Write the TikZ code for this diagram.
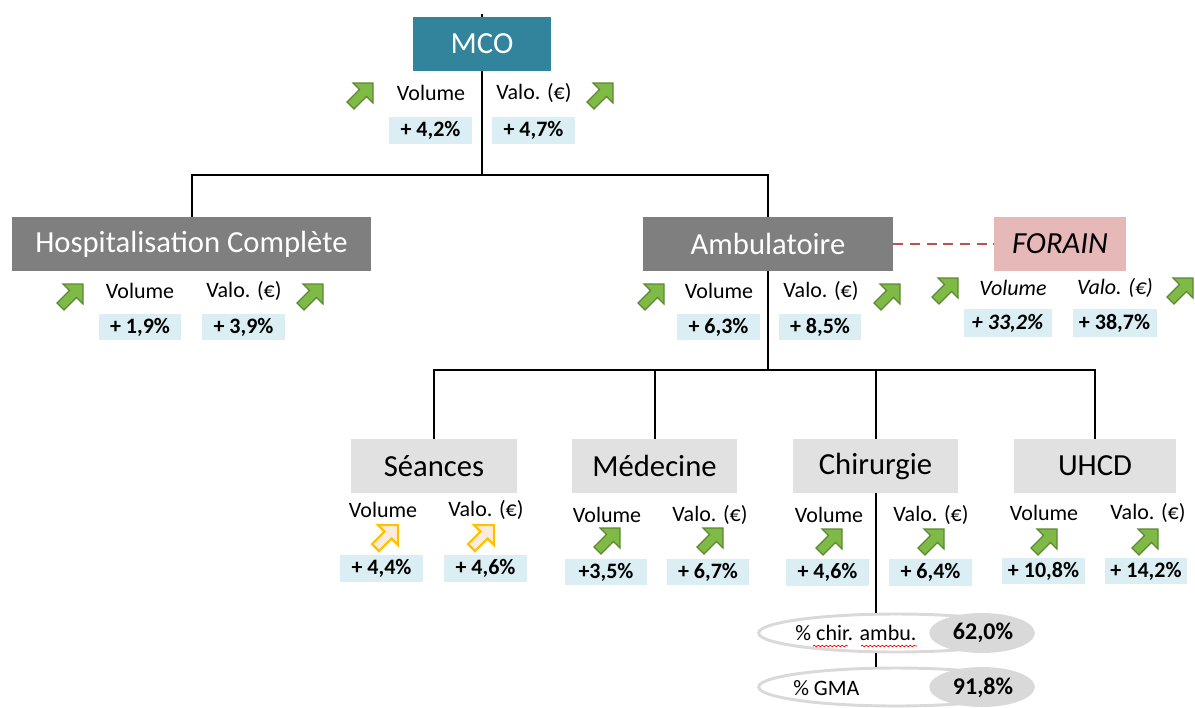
\documentclass[tikz,border=0pt]{standalone}
\usepackage{fontspec}
\setmainfont{Carlito}
\usetikzlibrary{shapes.geometric,decorations.pathmorphing}

\definecolor{bleumco}{RGB}{49,132,155}
\definecolor{grisfonce}{RGB}{127,127,127}
\definecolor{grisclair}{RGB}{225,225,225}
\definecolor{rose}{RGB}{230,184,183}
\definecolor{bleupct}{RGB}{218,238,243}
\definecolor{rougetrait}{RGB}{192,80,77}
\definecolor{vert}{RGB}{128,186,70}
\definecolor{vertfonce}{RGB}{92,136,50}
\definecolor{ambre}{RGB}{255,192,0}
\definecolor{peche}{RGB}{253,236,222}
\definecolor{grisellipse}{RGB}{217,217,217}

\tikzset{
	titre/.style={inner sep=0pt, minimum height=40.5pt, font=\fontsize{23}{26}\selectfont},
	sombre/.style={titre, fill=grisfonce, text=white},
	clair/.style={titre, fill=grisclair, text=black, minimum width=124pt},
	lib/.style={inner sep=0pt, font=\fontsize{16.5}{19}\selectfont},
	pct/.style={inner sep=0pt, fill=bleupct, minimum width=62pt, minimum height=20pt, font=\bfseries\fontsize{16.5}{19}\selectfont},
	trait/.style={line width=1.5pt},
	pics/flecheverte/.style={code={
		\filldraw [fill=vert, draw=vertfonce, line width=0.9pt]
			( -7,-13 ) -- ( 13,-13 ) -- ( 13,7 ) -- ( 6.5,0.5 ) -- ( -6,13 ) -- ( -13,6 ) -- ( -0.5,-6.5 ) -- cycle;
	}},
	pics/flecheorange/.style={code={
		\filldraw [fill=peche, draw=ambre, line width=1.6pt]
			( -7,-13 ) -- ( 13,-13 ) -- ( 13,7 ) -- ( 6.5,0.5 ) -- ( -6,13 ) -- ( -13,6 ) -- ( -0.5,-6.5 ) -- cycle;
	}}
}

\begin{document}
\begin{tikzpicture}[x=0.75pt, y=-0.75pt]
		\useasboundingbox ( 0,0 ) rectangle ( 1195,707 );

		% niveaux
		\node [titre, fill=bleumco, text=white, minimum width=103pt] (mco) at ( 482,44 ) {MCO};
		\node [sombre, minimum width=269pt] (hc) at ( 191.5,244 ) {Hospitalisation Complète};
		\node [sombre, minimum width=187.5pt] (amb) at ( 768,244 ) {Ambulatoire};
		\node [titre, fill=rose, minimum width=99pt, font=\itshape\fontsize{23}{26}\selectfont] (forain) at ( 1060,244 ) {FORAIN};
		\node [clair] (seances) at ( 434,466 ) {Séances};
		\node [clair] (medecine) at ( 654.5,466 ) {Médecine};
		\node [clair] (chirurgie) at ( 875.5,466 ) {Chirurgie};
		\node [clair, minimum width=121.5pt] (uhcd) at ( 1095,466 ) {UHCD};

		% liaisons
		\coordinate (barre1) at ( 0,175 );
		\coordinate (barre2) at ( 0,370 );
		\draw [trait] (mco.north) -- ++( 0,-3 );
		\draw [trait] (mco.south) -- (mco.south |- barre1) -| (hc.north);
		\draw [trait] (mco.south |- barre1) -| (amb.north);
		\draw [trait] (amb.south) -- (amb.south |- barre2);
		\foreach \n in {seances,medecine,chirurgie,uhcd}
			\draw [trait] (amb.south |- barre2) -| (\n.north);
		\draw [rougetrait, line width=1.5pt, dash pattern=on 7.5pt off 5pt] (amb.east) -- (forain.west);

		% MCO
		\pic at ( 360,96 ) {flecheverte};
		\pic at ( 600,96 ) {flecheverte};
		\node [lib] (mcovol) at ( 431,93 ) {Volume};
		\node [lib] (mcoval) at ( 534,93 ) {Valo. (€)};
		\node [pct] (mcopv) at ( 430.5,130.5 ) {+ 4,2\%};
		\node [pct] (mcope) at ( 533.5,130.5 ) {+ 4,7\%};

		% hospitalisation complete
		\pic at ( 70,297 ) {flecheverte};
		\pic at ( 310,297 ) {flecheverte};
		\node [lib] (hcvol) at ( 140,291 ) {Volume};
		\node [lib] (hcval) at ( 244,291 ) {Valo. (€)};
		\node [pct] (hcpv) at ( 140,327 ) {+ 1,9\%};
		\node [pct] (hcpe) at ( 243.5,327 ) {+ 3,9\%};

		% ambulatoire
		\pic at ( 651,297 ) {flecheverte};
		\pic at ( 887,297 ) {flecheverte};
		\node [lib] (ambvol) at ( 719,291 ) {Volume};
		\node [lib] (ambval) at ( 821,291 ) {Valo. (€)};
		\node [pct] (ambpv) at ( 718.5,327 ) {+ 6,3\%};
		\node [pct] (ambpe) at ( 820,327 ) {+ 8,5\%};

		% forain
		\pic at ( 945,291 ) {flecheverte};
		\pic at ( 1180,291 ) {flecheverte};
		\node [lib, font=\itshape\fontsize{16.5}{19}\selectfont] (forvol) at ( 1013,288 ) {Volume};
		\node [lib, font=\itshape\fontsize{16.5}{19}\selectfont] (forval) at ( 1115,288 ) {Valo. (€)};
		\node [pct, minimum width=66pt, minimum height=21pt, font=\bfseries\itshape\fontsize{16.5}{19}\selectfont] (forpv) at ( 1007.5,323 ) {+ 33,2\%};
		\node [pct, minimum width=63pt, minimum height=21pt] (forpe) at ( 1114.5,323 ) {+ 38,7\%};

		% seances
		\node [lib] (seavol) at ( 383,510 ) {Volume};
		\node [lib] (seaval) at ( 486,510 ) {Valo. (€)};
		\pic at ( 385,538 ) {flecheorange};
		\pic at ( 481,538 ) {flecheorange};
		\node [pct] (seapv) at ( 381.5,568.5 ) {+ 4,4\%};
		\node [pct] (seape) at ( 485.5,568.5 ) {+ 4,6\%};

		% medecine
		\node [lib] (medvol) at ( 607,515 ) {Volume};
		\node [lib] (medval) at ( 710,515 ) {Valo. (€)};
		\pic at ( 607,541 ) {flecheverte};
		\pic at ( 710,541 ) {flecheverte};
		\node [pct] (medpv) at ( 606,572 ) {+3,5\%};
		\node [pct] (medpe) at ( 708,572 ) {+ 6,7\%};

		% chirurgie
		\node [lib] (chivol) at ( 829,515 ) {Volume};
		\node [lib] (chival) at ( 931,515 ) {Valo. (€)};
		\pic at ( 829,542 ) {flecheverte};
		\pic at ( 931,542 ) {flecheverte};
		\node [pct] (chipv) at ( 827.5,572.5 ) {+ 4,6\%};
		\node [pct] (chipe) at ( 930.5,572.5 ) {+ 6,4\%};

		% UHCD
		\node [lib] (uhcvol) at ( 1044,513 ) {Volume};
		\node [lib] (uhcval) at ( 1148,513 ) {Valo. (€)};
		\pic at ( 1044,542 ) {flecheverte};
		\pic at ( 1145,542 ) {flecheverte};
		\node [pct] (uhcpv) at ( 1043.5,571 ) {+ 10,8\%};
		\node [pct] (uhcpe) at ( 1146,571 ) {+ 14,2\%};

		% ratios chirurgie
		\node [ellipse, draw=grisellipse, line width=2.2pt, fill=white, inner sep=0pt, minimum width=206pt, minimum height=28.5pt] (ambu) at ( 896,633 ) {};
		\node [ellipse, fill=grisellipse, inner sep=0pt, minimum width=79pt, minimum height=30pt] (ambuval) at ( 982,633 ) {};
		\node [ellipse, draw=grisellipse, line width=2.2pt, fill=white, inner sep=0pt, minimum width=206pt, minimum height=28.5pt] (gma) at ( 896,687 ) {};
		\node [ellipse, fill=grisellipse, inner sep=0pt, minimum width=79pt, minimum height=30pt] (gmaval) at ( 982,687 ) {};
		\draw [trait] (chirurgie.south) -- (chirurgie.south |- ambu.north);
		\draw [trait] (chirurgie.south |- ambu.south) -- (chirurgie.south |- gma.north);
		\node [lib] (tambu) at ( 856,633 ) {\% chir. ambu.};
		\node [lib, font=\bfseries\fontsize{18}{20}\selectfont] (vambu) at ( 983,633 ) {62,0\%};
		\node [lib, anchor=west] (tgma) at ( 793,688 ) {\% GMA};
		\node [lib, font=\bfseries\fontsize{18}{20}\selectfont] (vgma) at ( 983,688 ) {91,8\%};
		\draw [red, line width=0.5pt, decorate, decoration={snake, amplitude=0.6pt, segment length=3pt}] ( 813,646 ) -- ( 848,646 );
		\draw [red, line width=0.5pt, decorate, decoration={snake, amplitude=0.6pt, segment length=3pt}] ( 861,646 ) -- ( 917,646 );
\end{tikzpicture}
\end{document}
